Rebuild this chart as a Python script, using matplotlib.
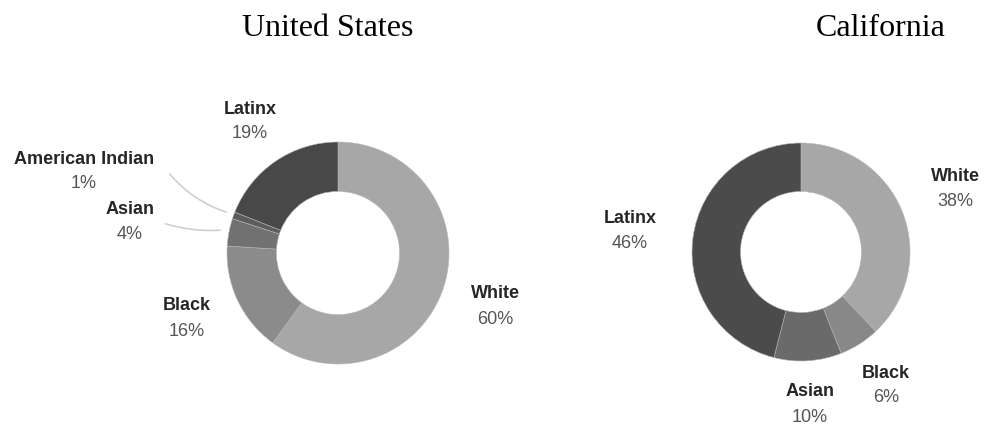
import matplotlib.pyplot as plt

# data
us_groups = ["White", "Black", "Asian", "American Indian", "Latinx"]
us_shares = [60, 16, 4, 1, 19]
us_colors = ["#a7a7a7", "#8b8b8b", "#717171", "#5c5c5c", "#484848"]

ca_groups = ["White", "Black", "Asian", "Latinx"]
ca_shares = [38, 6, 10, 46]
ca_colors = ["#a7a7a7", "#888888", "#6a6a6a", "#4b4b4b"]

# label positions, in pixels from the top-left corner
us_label_xy = [(495, 294), (187, 306), (130, 210), (84, 159), (250, 109)]
ca_label_xy = [(955, 177), (886, 373), (810, 392), (630, 219)]

W, H = 987, 426

fig = plt.figure(figsize=(W / 100, H / 100), dpi=100)
ax = fig.add_axes([0, 0, 1, 1])


def donut(shares, colors, cx, cy, r):
    ax.pie(shares, colors=colors, startangle=90, counterclock=False,
           radius=r, center=(cx, H - cy),
           wedgeprops=dict(width=r * 0.445, edgecolor="#b5b5b5", linewidth=0.4))


def labels(groups, shares, xy):
    for g, s, (x, y) in zip(groups, shares, xy):
        ax.text(x, H - y, g, ha="center", va="center", family="Liberation Sans",
                fontweight="bold", fontsize=13, color="#262626")
        ax.text(x, H - y - 25, f"{s}%", ha="center", va="center",
                family="Liberation Sans", fontsize=13, color="#555555")


donut(us_shares, us_colors, 338, 253, 111)
donut(ca_shares, ca_colors, 801, 252, 109)
labels(us_groups, us_shares, us_label_xy)
labels(ca_groups, ca_shares, ca_label_xy)

# leader lines for the small slices
ax.annotate("", xy=(229, H - 213), xytext=(168, H - 172),
            arrowprops=dict(arrowstyle="-", color="#cfcfcf", lw=1.2,
                            connectionstyle="arc3,rad=0.15"))
ax.annotate("", xy=(223, H - 230), xytext=(163, H - 223),
            arrowprops=dict(arrowstyle="-", color="#cfcfcf", lw=1.2,
                            connectionstyle="arc3,rad=0.1"))

ax.text(328, H - 28, "United States", ha="center", va="center",
        family="Liberation Serif", fontsize=23)
ax.text(881, H - 28, "California", ha="center", va="center",
        family="Liberation Serif", fontsize=23)

ax.set_xlim(0, W)
ax.set_ylim(0, H)
ax.set_aspect("equal")
ax.axis("off")

fig.savefig("out.png", dpi=100)
